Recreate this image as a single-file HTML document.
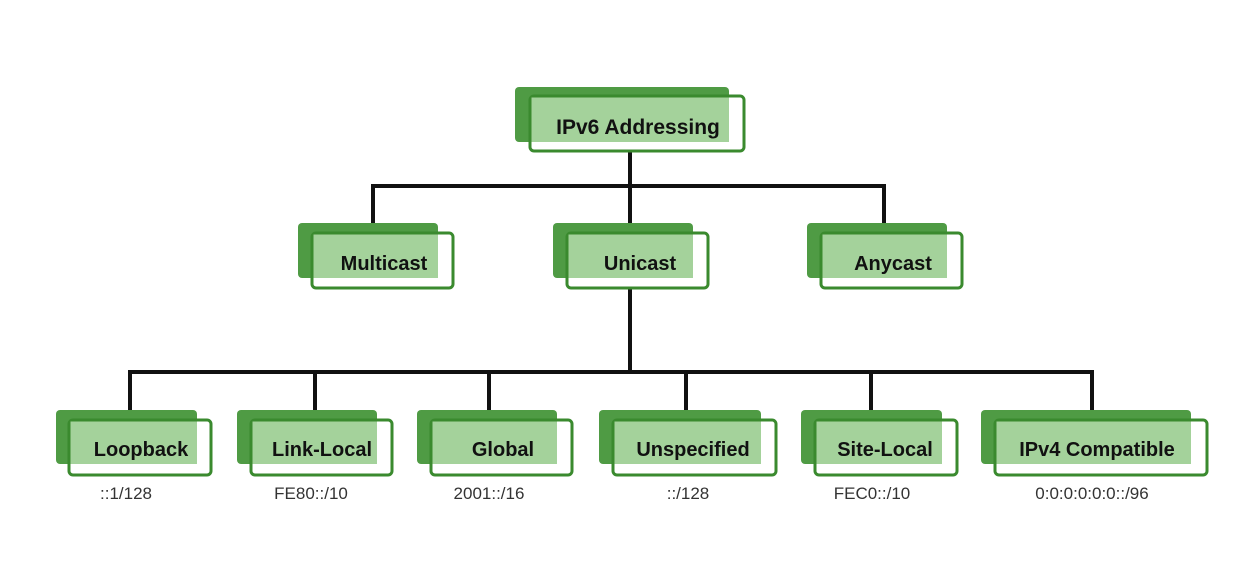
<!DOCTYPE html>
<html><head><style>
html,body{margin:0;padding:0;background:#fff;}
svg text{font-family:"Liberation Sans",sans-serif;}
</style></head><body>
<svg width="1257" height="561" viewBox="0 0 1257 561" xmlns="http://www.w3.org/2000/svg">
<g stroke="#111" stroke-width="4" fill="none">
<line x1="630" y1="152" x2="630" y2="186"/>
<line x1="371" y1="186" x2="886" y2="186"/>
<line x1="373" y1="186" x2="373" y2="224"/>
<line x1="630" y1="186" x2="630" y2="224"/>
<line x1="884" y1="186" x2="884" y2="224"/>
<line x1="630" y1="288" x2="630" y2="372"/>
<line x1="128" y1="372" x2="1094" y2="372"/>
<line x1="130" y1="372" x2="130" y2="410"/>
<line x1="315" y1="372" x2="315" y2="410"/>
<line x1="489" y1="372" x2="489" y2="410"/>
<line x1="686" y1="372" x2="686" y2="410"/>
<line x1="871" y1="372" x2="871" y2="410"/>
<line x1="1092" y1="372" x2="1092" y2="410"/>
</g>
<g id="nodes">
<rect x="515" y="87" width="214" height="55" rx="4" fill="#4f9b44"/>
<rect x="530" y="96" width="214" height="55" rx="4" fill="#fff" stroke="#3a8a2e" stroke-width="3"/>
<rect x="531.5" y="97.5" width="197.5" height="44.5" fill="#a4d29b"/>
<text x="638" y="134" font-size="21" font-weight="bold" text-anchor="middle" fill="#111">IPv6 Addressing</text>

<rect x="298" y="223" width="140" height="55" rx="4" fill="#4f9b44"/>
<rect x="312" y="233" width="141" height="55" rx="4" fill="#fff" stroke="#3a8a2e" stroke-width="3"/>
<rect x="313.5" y="234.5" width="124.5" height="43.5" fill="#a4d29b"/>
<text x="384" y="270" font-size="20" font-weight="bold" text-anchor="middle" fill="#111">Multicast</text>

<rect x="553" y="223" width="140" height="55" rx="4" fill="#4f9b44"/>
<rect x="567" y="233" width="141" height="55" rx="4" fill="#fff" stroke="#3a8a2e" stroke-width="3"/>
<rect x="568.5" y="234.5" width="124.5" height="43.5" fill="#a4d29b"/>
<text x="640" y="270" font-size="20" font-weight="bold" text-anchor="middle" fill="#111">Unicast</text>

<rect x="807" y="223" width="140" height="55" rx="4" fill="#4f9b44"/>
<rect x="821" y="233" width="141" height="55" rx="4" fill="#fff" stroke="#3a8a2e" stroke-width="3"/>
<rect x="822.5" y="234.5" width="124.5" height="43.5" fill="#a4d29b"/>
<text x="893" y="270" font-size="20" font-weight="bold" text-anchor="middle" fill="#111">Anycast</text>

<rect x="56" y="410" width="141" height="54" rx="4" fill="#4f9b44"/>
<rect x="69" y="420" width="142" height="55" rx="4" fill="#fff" stroke="#3a8a2e" stroke-width="3"/>
<rect x="70.5" y="421.5" width="126.5" height="42.5" fill="#a4d29b"/>
<text x="141" y="456" font-size="20" font-weight="bold" text-anchor="middle" fill="#111">Loopback</text>
<text x="126" y="499" font-size="17" text-anchor="middle" fill="#333">::1/128</text>

<rect x="237" y="410" width="140" height="54" rx="4" fill="#4f9b44"/>
<rect x="251" y="420" width="141" height="55" rx="4" fill="#fff" stroke="#3a8a2e" stroke-width="3"/>
<rect x="252.5" y="421.5" width="124.5" height="42.5" fill="#a4d29b"/>
<text x="322" y="456" font-size="20" font-weight="bold" text-anchor="middle" fill="#111">Link-Local</text>
<text x="311" y="499" font-size="17" text-anchor="middle" fill="#333">FE80::/10</text>

<rect x="417" y="410" width="140" height="54" rx="4" fill="#4f9b44"/>
<rect x="431" y="420" width="141" height="55" rx="4" fill="#fff" stroke="#3a8a2e" stroke-width="3"/>
<rect x="432.5" y="421.5" width="124.5" height="42.5" fill="#a4d29b"/>
<text x="503" y="456" font-size="20" font-weight="bold" text-anchor="middle" fill="#111">Global</text>
<text x="489" y="499" font-size="17" text-anchor="middle" fill="#333">2001::/16</text>

<rect x="599" y="410" width="162" height="54" rx="4" fill="#4f9b44"/>
<rect x="613" y="420" width="163" height="55" rx="4" fill="#fff" stroke="#3a8a2e" stroke-width="3"/>
<rect x="614.5" y="421.5" width="146.5" height="42.5" fill="#a4d29b"/>
<text x="693" y="456" font-size="20" font-weight="bold" text-anchor="middle" fill="#111">Unspecified</text>
<text x="688" y="499" font-size="17" text-anchor="middle" fill="#333">::/128</text>

<rect x="801" y="410" width="141" height="54" rx="4" fill="#4f9b44"/>
<rect x="815" y="420" width="142" height="55" rx="4" fill="#fff" stroke="#3a8a2e" stroke-width="3"/>
<rect x="816.5" y="421.5" width="125.5" height="42.5" fill="#a4d29b"/>
<text x="885" y="456" font-size="20" font-weight="bold" text-anchor="middle" fill="#111">Site-Local</text>
<text x="872" y="499" font-size="17" text-anchor="middle" fill="#333">FEC0::/10</text>

<rect x="981" y="410" width="210" height="54" rx="4" fill="#4f9b44"/>
<rect x="995" y="420" width="212" height="55" rx="4" fill="#fff" stroke="#3a8a2e" stroke-width="3"/>
<rect x="996.5" y="421.5" width="194.5" height="42.5" fill="#a4d29b"/>
<text x="1097" y="456" font-size="20" font-weight="bold" text-anchor="middle" fill="#111">IPv4 Compatible</text>
<text x="1092" y="499" font-size="17" text-anchor="middle" fill="#333">0:0:0:0:0:0::/96</text>
</g>
</svg>
</body></html>
